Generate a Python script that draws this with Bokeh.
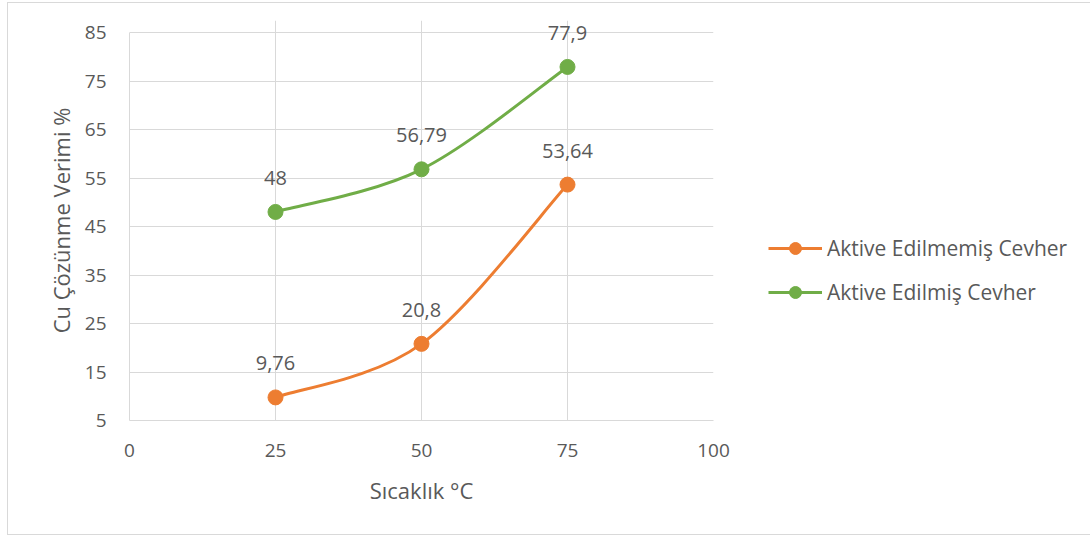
from bokeh.plotting import figure
from bokeh.models import (ColumnDataSource, LabelSet, Legend, LegendItem,
                          FixedTicker, Range1d)
from bokeh.core.properties import value
from bokeh.embed import file_html
from bokeh.resources import INLINE

# ---- data ----
temperature = [25, 50, 75]
unactivated = [9.76, 20.8, 53.64]
activated = [48, 56.79, 77.9]
unactivated_labels = ["9,76", "20,8", "53,64"]
activated_labels = ["48", "56,79", "77,9"]
series_names = ["Aktive Edilmemiş Cevher", "Aktive Edilmiş Cevher"]
x_ticks = [0, 25, 50, 75, 100]
y_ticks = [5, 15, 25, 35, 45, 55, 65, 75, 85]
y_min, y_max = 5, 85
x_min, x_max = 0, 100

ORANGE = "#ED7D31"
GREEN = "#70AD47"
TEXT = "#595959"
GRID = "#D9D9D9"
FONT = "Open Sans"


def smooth_segments(xs, ys):
    """Catmull-Rom style cubic Bezier control points (Excel smoothed line)."""
    n = len(xs)
    x0, y0, x1, y1, cx0, cy0, cx1, cy1 = [], [], [], [], [], [], [], []
    for i in range(n - 1):
        pm = (xs[max(i - 1, 0)], ys[max(i - 1, 0)])
        p0 = (xs[i], ys[i])
        p1 = (xs[i + 1], ys[i + 1])
        p2 = (xs[min(i + 2, n - 1)], ys[min(i + 2, n - 1)])
        x0.append(p0[0]); y0.append(p0[1])
        x1.append(p1[0]); y1.append(p1[1])
        cx0.append(p0[0] + (p1[0] - pm[0]) / 6.0)
        cy0.append(p0[1] + (p1[1] - pm[1]) / 6.0)
        cx1.append(p1[0] - (p2[0] - p0[0]) / 6.0)
        cy1.append(p1[1] - (p2[1] - p0[1]) / 6.0)
    return dict(x0=x0, y0=y0, x1=x1, y1=y1, cx0=cx0, cy0=cy0, cx1=cx1, cy1=cy1)


# the visible plot area spans 388 px for 5..85; the frame gets 12 px of
# extra headroom so the top data label is not clipped
PLOT_H = 388
HEADROOM = 12
FRAME_H = PLOT_H + HEADROOM
y_end = y_min + (y_max - y_min) * FRAME_H / PLOT_H

p = figure(output_backend="svg", toolbar_location=None,
           frame_width=584, frame_height=FRAME_H,
           min_border_left=121, min_border_right=374,
           min_border_top=29 - HEADROOM, min_border_bottom=114,
           x_range=Range1d(x_min, x_max), y_range=Range1d(y_min, y_end))
p.margin = (2, 0, 0, 7)
p.outline_line_color = None
p.background_fill_color = "white"
p.border_fill_color = "white"
p.styles = {"border": "1px solid #D9D9D9"}

# axes
for ax in (p.xaxis[0], p.yaxis[0]):
    ax.major_tick_line_color = None
    ax.minor_tick_line_color = None
    ax.major_label_text_font = FONT
    ax.major_label_text_font_size = "19px"
    ax.major_label_text_color = TEXT
    ax.axis_label_text_font = FONT
    ax.axis_label_text_font_size = "22px"
    ax.axis_label_text_font_style = "normal"
    ax.axis_label_text_color = TEXT
    ax.axis_line_color = GRID

p.yaxis.bounds = (y_min, y_max)
p.xaxis.ticker = FixedTicker(ticks=x_ticks)
p.yaxis.ticker = FixedTicker(ticks=y_ticks)
p.xaxis.axis_label = "Sıcaklık °C"
p.yaxis.axis_label = "Cu Çözünme Verimi %"
p.xaxis.major_label_standoff = 17
p.yaxis.major_label_standoff = 17
p.xaxis.axis_label_standoff = 15
p.yaxis.axis_label_standoff = 6

p.xgrid.ticker = FixedTicker(ticks=x_ticks)
p.ygrid.ticker = FixedTicker(ticks=y_ticks)
p.xgrid.bounds = (y_min, y_max)
p.xgrid.grid_line_color = GRID
p.ygrid.grid_line_color = GRID

# series
renderers = []
for ys, labels, color in ((unactivated, unactivated_labels, ORANGE),
                          (activated, activated_labels, GREEN)):
    seg = ColumnDataSource(smooth_segments(temperature, ys))
    line_r = p.bezier(x0="x0", y0="y0", x1="x1", y1="y1",
                      cx0="cx0", cy0="cy0", cx1="cx1", cy1="cy1",
                      source=seg, line_color=color, line_width=3)
    src = ColumnDataSource(dict(x=temperature, y=ys, t=labels))
    pt_r = p.scatter("x", "y", source=src, size=15, fill_color=color,
                     line_color=color)
    p.add_layout(LabelSet(x="x", y="y", text="t", source=src,
                          y_offset=27, text_align="center",
                          text_baseline="alphabetic",
                          text_font=value(FONT), text_font_size="20px",
                          text_color=TEXT))
    renderers.append((line_r, pt_r))

# legend (line + marker glyphs); helper lines hold a single NaN point
nan = float("nan")
leg_line_o = p.line([nan], [nan], line_color=ORANGE, line_width=3)
leg_line_g = p.line([nan], [nan], line_color=GREEN, line_width=3)
items = [LegendItem(label=series_names[0], renderers=[leg_line_o, renderers[0][1]]),
         LegendItem(label=series_names[1], renderers=[leg_line_g, renderers[1][1]])]
legend = Legend(items=items, location=(55, 113), padding=0, margin=0,
                spacing=14, glyph_width=54, glyph_height=30, label_height=30,
                label_standoff=5, border_line_color=None,
                background_fill_alpha=0,
                label_text_font=FONT, label_text_font_size="21px",
                label_text_color=TEXT)
p.add_layout(legend, "right")

open("out.html", "w").write(file_html(p, INLINE))
